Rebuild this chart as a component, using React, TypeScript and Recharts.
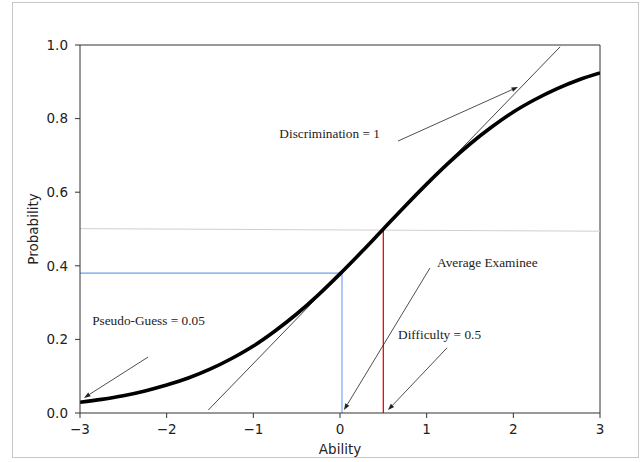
import React from "react";
import { LineChart, Line, XAxis, YAxis, ReferenceLine, ReferenceDot } from "recharts";

const abilityValues = [
  -3, -2.75, -2.5, -2.25, -2, -1.75, -1.5, -1.25, -1, -0.75, -0.5, -0.25, 0,
  0.25, 0.5, 0.75, 1, 1.25, 1.5, 1.75, 2, 2.25, 2.5, 2.75, 3,
];
const probabilityValues = [
  0.029, 0.037, 0.047, 0.06, 0.076, 0.095, 0.119, 0.148, 0.182, 0.223, 0.269, 0.321, 0.378,
  0.438, 0.5, 0.562, 0.622, 0.679, 0.731, 0.777, 0.818, 0.852, 0.881, 0.905, 0.924,
];
const curveData = abilityValues.map((x, i) => ({ x, y: probabilityValues[i] }));

const xTicks = [-3, -2, -1, 0, 1, 2, 3];
const yTicks = [0, 0.2, 0.4, 0.6, 0.8, 1.0];

const tangentPoints = [
  { x: -1.52, y: 0.008 },
  { x: 2.54, y: 0.995 },
];
const averageGuide = [
  { x: -3, y: 0.38 },
  { x: 0.023, y: 0.38 },
  { x: 0.023, y: 0 },
];
const difficultyGuide = [
  { x: 0.5, y: 0 },
  { x: 0.5, y: 0.5 },
];
const halfLine = [
  { x: -3, y: 0.501 },
  { x: 3, y: 0.494 },
];

const annotationLabels = ["Discrimination = 1", "Average Examinee", "Difficulty = 0.5", "Pseudo-Guess = 0.05"];
const labelX = [-0.7, 1.12, 0.67, -2.86];
const labelY = [0.747, 0.397, 0.201, 0.239];
const arrowFromX = [0.669, 1.038, 1.235, -2.215];
const arrowFromY = [0.739, 0.394, 0.177, 0.152];
const arrowToX = [2.054, 0.046, 0.554, -2.954];
const arrowToY = [0.886, 0.008, 0.008, 0.041];

const fmtX = (v: number) => (v < 0 ? "\u2212" + Math.abs(v) : String(v));
const fmtY = (v: number) => v.toFixed(1);

const ArrowShape = (props: any) => {
  const { x1, y1, x2, y2 } = props;
  const ang = Math.atan2(y2 - y1, x2 - x1);
  const L = 6.5;
  const W = 2.3;
  const bx = x2 - L * Math.cos(ang);
  const by = y2 - L * Math.sin(ang);
  const px = -Math.sin(ang) * W;
  const py = Math.cos(ang) * W;
  return (
    <g>
      <line x1={x1} y1={y1} x2={bx} y2={by} stroke="#222" strokeWidth={0.8} />
      <polygon points={`${x2},${y2} ${bx + px},${by + py} ${bx - px},${by - py}`} fill="#222" />
    </g>
  );
};

const makeTextShape = (text: string) => (props: any) => (
  <text
    x={props.cx}
    y={props.cy}
    fontFamily="'Liberation Serif', 'Times New Roman', serif"
    fontSize={13.3}
    fill="#222"
  >
    {text}
  </text>
);

const tickStyle = { fontFamily: "'DejaVu Sans', sans-serif", fontSize: 13.5, fill: "#222" };

export default function App() {
  return (
    <div style={{ position: "absolute", left: 0, top: 0, width: 641, height: 462, background: "#fff" }}>
      <div
        style={{
          position: "absolute",
          left: 12,
          top: 2,
          width: 625,
          height: 454,
          border: "1px solid #c8c8c8",
        }}
      />
      <div style={{ position: "absolute", left: 0, top: 0 }}>
        <LineChart width={641} height={462} margin={{ top: 45, right: 41, left: 0, bottom: 0 }}>
          <XAxis
            type="number"
            dataKey="x"
            domain={[-3, 3]}
            ticks={xTicks}
            tickFormatter={fmtX}
            height={49}
            tickSize={5}
            tickMargin={6}
            stroke="#333"
            tick={tickStyle}
            allowDataOverflow
            label={(p: any) => {
              const vb = p.viewBox;
              return (
                <text
                  x={vb.x + vb.width / 2}
                  y={vb.y + 41}
                  textAnchor="middle"
                  fontFamily="'DejaVu Sans', sans-serif"
                  fontSize={13.5}
                  fill="#222"
                >
                  Ability
                </text>
              );
            }}
          />
          <YAxis
            type="number"
            domain={[0, 1]}
            ticks={yTicks}
            tickFormatter={fmtY}
            width={80}
            tickSize={5}
            tickMargin={7}
            stroke="#333"
            tick={tickStyle}
            allowDataOverflow
            label={(p: any) => {
              const vb = p.viewBox;
              const cx = 38;
              const cy = vb.y + vb.height / 2;
              return (
                <text
                  x={cx}
                  y={cy}
                  textAnchor="middle"
                  transform={`rotate(-90 ${cx} ${cy})`}
                  fontFamily="'DejaVu Sans', sans-serif"
                  fontSize={13.5}
                  fill="#222"
                >
                  Probability
                </text>
              );
            }}
          />
          <ReferenceLine y={1} stroke="#333" strokeWidth={1} />
          <ReferenceLine x={3} stroke="#333" strokeWidth={1} />
          <Line
            data={halfLine}
            dataKey="y"
            type="linear"
            stroke="#d0d0d0"
            strokeWidth={1}
            dot={false}
            activeDot={false}
            isAnimationActive={false}
          />
          <Line
            data={averageGuide}
            dataKey="y"
            type="linear"
            stroke="#6d9eeb"
            strokeWidth={1.1}
            dot={false}
            activeDot={false}
            isAnimationActive={false}
          />
          <Line
            data={difficultyGuide}
            dataKey="y"
            type="linear"
            stroke="#ff0000"
            strokeWidth={1.3}
            dot={false}
            activeDot={false}
            isAnimationActive={false}
          />
          <Line
            data={tangentPoints}
            dataKey="y"
            type="linear"
            stroke="#333"
            strokeWidth={0.9}
            dot={false}
            activeDot={false}
            isAnimationActive={false}
          />
          <Line
            data={curveData}
            dataKey="y"
            type="monotone"
            stroke="#000"
            strokeWidth={3.6}
            dot={false}
            activeDot={false}
            isAnimationActive={false}
          />
          {annotationLabels.map((_, i) => (
            <ReferenceLine
              key={"a" + i}
              segment={[
                { x: arrowFromX[i], y: arrowFromY[i] },
                { x: arrowToX[i], y: arrowToY[i] },
              ]}
              stroke="#222"
              shape={ArrowShape}
            />
          ))}
          {annotationLabels.map((t, i) => (
            <ReferenceDot
              key={"t" + i}
              x={labelX[i]}
              y={labelY[i]}
              r={1}
              shape={makeTextShape(t)}
            />
          ))}
        </LineChart>
      </div>
    </div>
  );
}
